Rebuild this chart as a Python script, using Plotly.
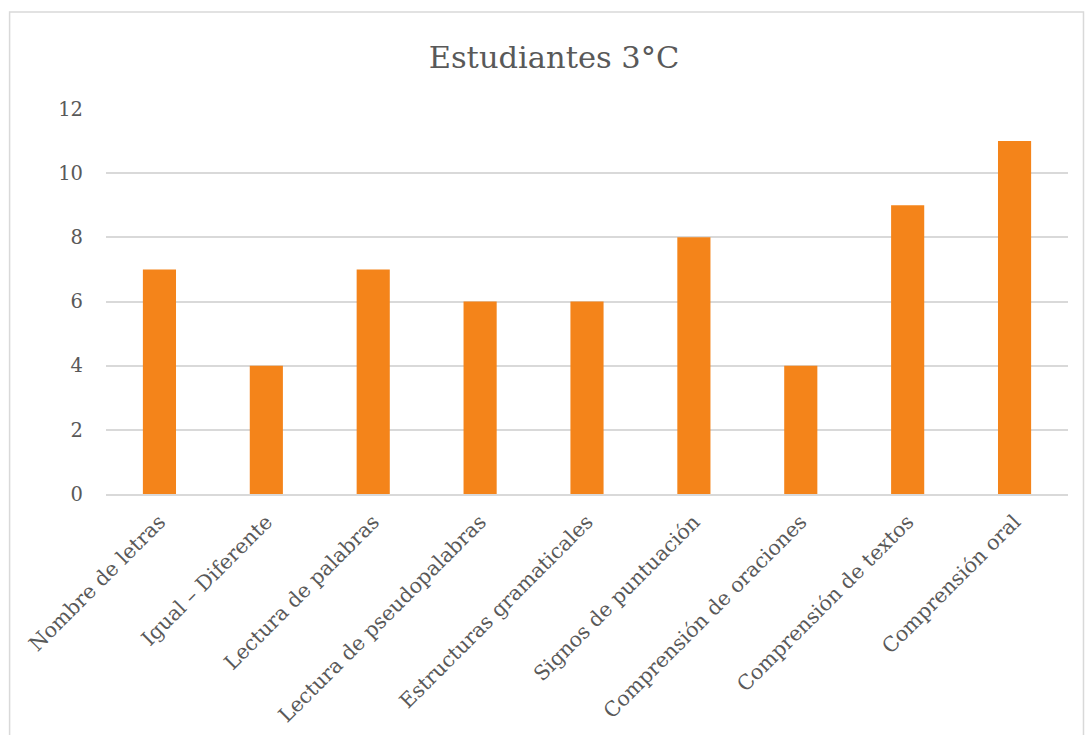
import plotly.graph_objects as go

categories = ["Nombre de letras", "Igual – Diferente", "Lectura de palabras",
              "Lectura de pseudopalabras", "Estructuras gramaticales",
              "Signos de puntuación", "Comprensión de oraciones",
              "Comprensión de textos", "Comprensión oral"]
values = [7, 4, 7, 6, 6, 8, 4, 9, 11]
y_ticks = [0, 2, 4, 6, 8, 10, 12]

W, H = 1086, 735
L, R, T, B = 105.5, 17.5, 109, 241

fig = go.Figure(go.Bar(x=categories, y=values, marker_color="#F4841A",
                       marker_line_width=0))

font_family = "DejaVu Serif, Liberation Serif, serif"
fig.update_layout(
    width=W, height=H,
    margin=dict(l=L, r=R, t=T, b=B, autoexpand=False),
    paper_bgcolor="white", plot_bgcolor="white",
    bargap=0.69,
    showlegend=False,
    font=dict(family=font_family, color="#595959"),
    title=dict(text="Estudiantes 3°C", x=554 / W, xanchor="center",
               y=1 - 57 / H, yanchor="middle",
               font=dict(size=30.5, family=font_family, color="#595959")),
    xaxis=dict(tickangle=-45, tickfont=dict(size=20.5), showgrid=False,
               showline=True, linecolor="#D9D9D9", linewidth=1.5,
               ticks="", ticklen=0, ticklabelstandoff=6, automargin=False),
    yaxis=dict(range=[0, 12], tickvals=y_ticks, tickfont=dict(size=19.5),
               showgrid=True, gridcolor="#D9D9D9", gridwidth=1.5,
               zeroline=False, ticks="", ticklabelstandoff=22, automargin=False),
    shapes=[dict(type="rect", xref="paper", yref="paper",
                 x0=-(L - 9) / (W - L - R), x1=1 + (R - 2) / (W - L - R),
                 y0=-(B + 10) / (H - T - B), y1=1 + (T - 12) / (H - T - B),
                 line=dict(color="#D9D9D9", width=1.5))],
)

fig.write_html("out.html", config={"displayModeBar": False},
               post_script="document.body.style.margin='0';document.body.style.overflow='hidden';")
